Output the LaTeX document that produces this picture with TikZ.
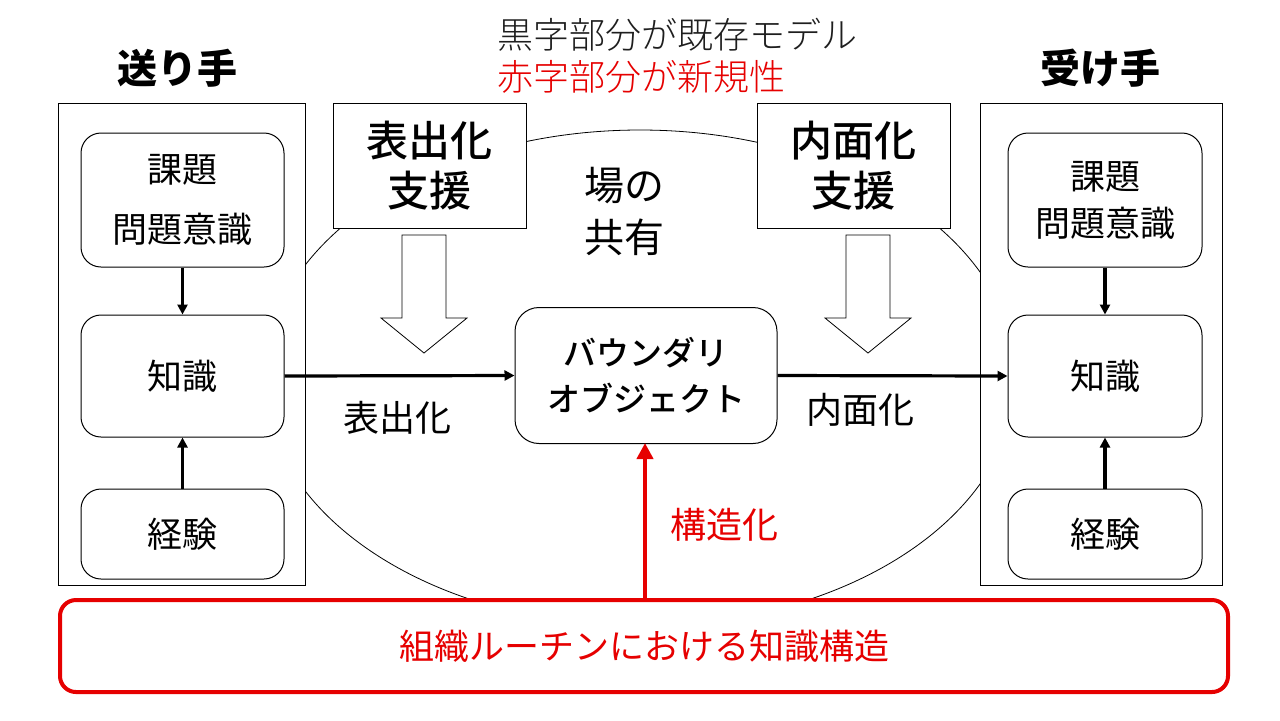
\documentclass[tikz,border=0pt]{standalone}
\usepackage{fontspec}
\setmainfont{Noto Sans CJK JP}
\newfontfamily\medfont{Noto Sans CJK JP Medium}
\newfontfamily\lightfont{Noto Sans CJK JP Light}
\usetikzlibrary{arrows.meta}
\definecolor{redc}{RGB}{230,0,0}
\definecolor{grayc}{RGB}{30,30,30}
\begin{document}
\begin{tikzpicture}[x=0.5pt,y=-0.5pt,
  thinline/.style={draw=black,line width=0.5pt},
  rbox/.style={thinline,fill=white,rounded corners=10pt,minimum width=101.5pt,inner sep=0pt,align=center,font=\fontsize{17.5}{23.5}\selectfont},
  outerbox/.style={thinline,fill=white,inner sep=0pt},
  supbox/.style={thinline,fill=white,minimum width=96.5pt,minimum height=62.5pt,inner sep=0pt,align=center,font=\medfont\fontsize{21}{25}\selectfont},
  hollow/.style={draw=black,line width=0.4pt,fill=white},
  blk/.style={line width=1.6pt,-{Triangle[length=5pt,width=5pt]}},
  title/.style={font=\bfseries\fontsize{20}{22}\selectfont},
  lbl/.style={font=\fontsize{18}{22}\selectfont}
]
\useasboundingbox[fill=white] (0,0) rectangle (1280,720);
% shared field ellipse
\draw[line width=0.4pt] (640,378) ellipse [x radius=376, y radius=248];
% header
\node[font=\lightfont\fontsize{18}{22}\selectfont,text=grayc,anchor=west] (h1) at (490,35) {黒字部分が既存モデル};
\node[font=\lightfont\fontsize{18}{22}\selectfont,text=redc,anchor=west] (h2) at (490,77) {赤字部分が新規性};
% titles
\node[title] (st) at (177,68) {送り手};
\node[title] (rt) at (1100,68) {受け手};
% outer boxes
\node[outerbox,minimum width=123.5pt,minimum height=241pt] (lo) at (181.5,344) {};
\node[outerbox,minimum width=121pt,minimum height=241pt] (ro) at (1101,344) {};
% left inner boxes
\node[rbox,minimum height=67pt,font=\fontsize{17.5}{30}\selectfont] (lk) at (182.5,200) {課題\\問題意識};
\node[rbox,minimum height=61pt] (lc) at (182.5,376) {知識};
\node[rbox,minimum height=45pt] (le) at (182.5,534) {経験};
% right inner boxes
\node[rbox,minimum width=97pt,minimum height=67pt] (rk) at (1105,200) {課題\\問題意識};
\node[rbox,minimum width=97pt,minimum height=61pt] (rc) at (1105,376) {知識};
\node[rbox,minimum width=97pt,minimum height=45pt] (re) at (1105,534) {経験};
% support boxes
\node[supbox] (sup1) at (429.5,165.5) {表出化\\支援};
\node[supbox] (sup2) at (853.5,165.5) {内面化\\支援};
% hollow arrows
\draw[hollow] (402,235) -- (446,235) -- (446,318) -- (467,318) -- (424,353) -- (381,318) -- (402,318) -- cycle;
\draw[hollow] (846,235) -- (890,235) -- (890,318) -- (911,318) -- (868,353) -- (825,318) -- (846,318) -- cycle;
% field label
\node[font=\fontsize{20}{26}\selectfont,align=center] (ba) at (624,211) {場の\\共有};
% boundary object
\node[rbox,minimum width=131pt,minimum height=68pt,rounded corners=12pt,font=\medfont\fontsize{16.5}{23}\selectfont] (bo) at (646,375.5) {バウンダリ\\オブジェクト};
% bottom red box
\node[draw=redc,line width=2pt,fill=white,rounded corners=8pt,minimum width=584pt,minimum height=46pt,inner sep=0pt,text=redc,font=\fontsize{17.5}{21}\selectfont] (org) at (644,646) {組織ルーチンにおける知識構造};
% black arrows
\draw[blk] (lk.south) -- (lc.north);
\draw[blk] (le.north) -- (lc.south);
\draw[blk] (rk.south) -- (rc.north);
\draw[blk] (re.north) -- (rc.south);
\draw[blk] (lc.east) -- (bo.west);
\draw[blk] (bo.east) -- (rc.west);
% red arrow
\coordinate (rs) at (645,600);
\coordinate (re2) at (645,443);
\draw[draw=redc,line width=2pt,-{Triangle[length=8pt,width=8pt]},redc] (rs) -- (re2);
% labels
\node[lbl] (l1) at (397,418) {表出化};
\node[lbl] (l2) at (860,410) {内面化};
\node[lbl,text=redc] (l3) at (724,525) {構造化};
\end{tikzpicture}
\end{document}
